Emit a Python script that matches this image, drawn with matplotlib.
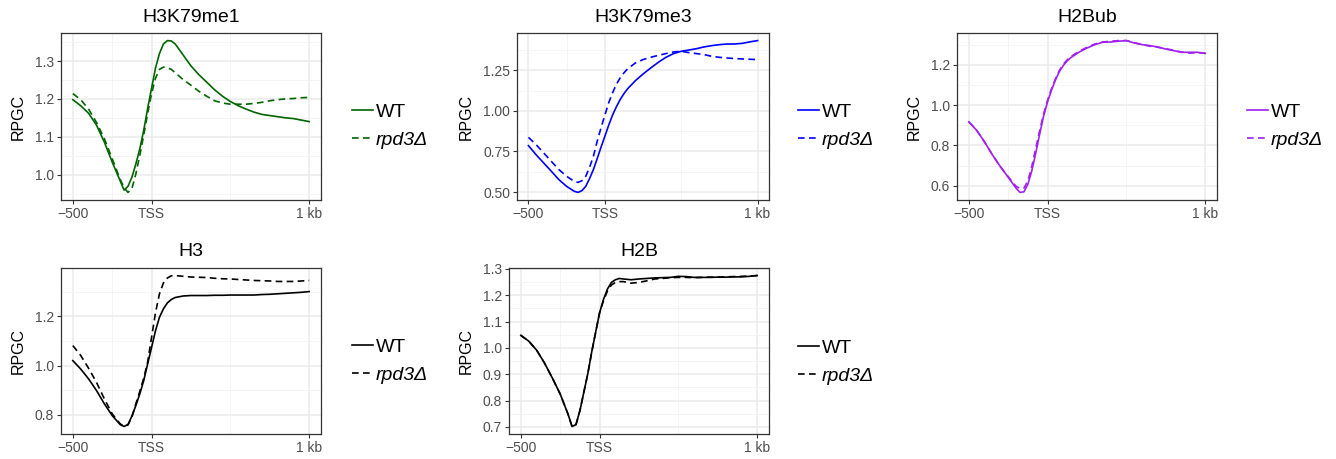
import matplotlib
matplotlib.use("Agg")
import matplotlib.pyplot as plt
from matplotlib.ticker import FixedLocator

plt.rcParams['font.family'] = ['Liberation Sans', 'DejaVu Sans']

# ---------------- data ----------------
pos = [-500, -450, -400, -350, -300, -250, -200, -175, -150, -125, -100, -75, -50, -25,
       0, 25, 50, 75, 100, 125, 150, 200, 250, 300, 350, 400, 450, 500, 550, 600,
       650, 700, 750, 800, 850, 900, 950, 1000]

titles = ["H3K79me1", "H3K79me3", "H2Bub", "H3", "H2B"]
series_labels = ["WT", "rpd3\u0394"]

h3k79me1_wt = [1.198, 1.182, 1.162, 1.131, 1.086, 1.033, 0.984, 0.959, 0.969, 0.993, 1.028, 1.068, 1.117, 1.175,
               1.229, 1.282, 1.320, 1.345, 1.354, 1.353, 1.345, 1.316, 1.287, 1.264, 1.244, 1.224, 1.207, 1.193,
               1.182, 1.173, 1.165, 1.159, 1.156, 1.153, 1.150, 1.148, 1.144, 1.140]
h3k79me1_rpd3 = [1.214, 1.198, 1.173, 1.138, 1.095, 1.042, 0.988, 0.966, 0.953, 0.963, 1.002, 1.051, 1.104, 1.162,
                 1.215, 1.255, 1.278, 1.284, 1.282, 1.278, 1.269, 1.251, 1.236, 1.220, 1.207, 1.195, 1.189, 1.186,
                 1.186, 1.186, 1.188, 1.191, 1.195, 1.198, 1.200, 1.201, 1.203, 1.204]

h3k79me3_wt = [0.786, 0.730, 0.679, 0.628, 0.576, 0.535, 0.505, 0.498, 0.509, 0.535, 0.583, 0.638, 0.706, 0.776,
               0.843, 0.911, 0.973, 1.024, 1.069, 1.106, 1.137, 1.186, 1.227, 1.264, 1.299, 1.330, 1.353, 1.367,
               1.375, 1.383, 1.394, 1.402, 1.408, 1.412, 1.412, 1.416, 1.425, 1.433]
h3k79me3_rpd3 = [0.837, 0.792, 0.741, 0.689, 0.638, 0.597, 0.566, 0.560, 0.570, 0.597, 0.652, 0.720, 0.813, 0.895,
                 0.973, 1.049, 1.110, 1.162, 1.203, 1.234, 1.260, 1.295, 1.316, 1.330, 1.342, 1.353, 1.363, 1.367,
                 1.359, 1.353, 1.347, 1.336, 1.330, 1.326, 1.322, 1.320, 1.318, 1.316]

h2bub_wt = [0.917, 0.875, 0.817, 0.753, 0.695, 0.642, 0.588, 0.567, 0.570, 0.608, 0.675, 0.763, 0.858, 0.947,
            1.017, 1.075, 1.125, 1.167, 1.197, 1.220, 1.237, 1.263, 1.283, 1.300, 1.312, 1.313, 1.317, 1.320,
            1.308, 1.300, 1.295, 1.288, 1.278, 1.270, 1.262, 1.262, 1.262, 1.257]
h2bub_rpd3 = [0.917, 0.875, 0.817, 0.753, 0.695, 0.645, 0.597, 0.587, 0.588, 0.625, 0.697, 0.787, 0.875, 0.958,
              1.025, 1.083, 1.130, 1.172, 1.203, 1.225, 1.242, 1.267, 1.287, 1.303, 1.313, 1.317, 1.320, 1.320,
              1.310, 1.300, 1.292, 1.287, 1.280, 1.272, 1.263, 1.258, 1.260, 1.257]

h3_wt = [1.020, 0.986, 0.946, 0.899, 0.845, 0.797, 0.761, 0.753, 0.761, 0.795, 0.838, 0.885, 0.939, 1.007,
         1.074, 1.142, 1.196, 1.230, 1.254, 1.268, 1.276, 1.282, 1.284, 1.284, 1.284, 1.285, 1.285, 1.286,
         1.286, 1.286, 1.286, 1.288, 1.289, 1.291, 1.293, 1.295, 1.297, 1.300]
h3_rpd3 = [1.081, 1.041, 0.989, 0.932, 0.865, 0.804, 0.764, 0.753, 0.759, 0.791, 0.845, 0.895, 0.949, 1.014,
           1.115, 1.216, 1.291, 1.335, 1.355, 1.364, 1.365, 1.362, 1.359, 1.358, 1.357, 1.354, 1.352, 1.351,
           1.349, 1.347, 1.345, 1.344, 1.343, 1.341, 1.341, 1.341, 1.343, 1.345]

h2b_wt = [1.048, 1.026, 0.992, 0.943, 0.886, 0.825, 0.748, 0.702, 0.709, 0.762, 0.832, 0.902, 0.985, 1.060,
          1.134, 1.185, 1.224, 1.249, 1.259, 1.264, 1.262, 1.259, 1.262, 1.264, 1.266, 1.267, 1.268, 1.272,
          1.271, 1.268, 1.268, 1.268, 1.269, 1.269, 1.270, 1.270, 1.272, 1.275]
h2b_rpd3 = [1.048, 1.026, 0.992, 0.943, 0.886, 0.825, 0.748, 0.702, 0.709, 0.762, 0.832, 0.902, 0.985, 1.060,
            1.134, 1.180, 1.217, 1.239, 1.249, 1.252, 1.252, 1.246, 1.249, 1.255, 1.262, 1.264, 1.267, 1.268,
            1.268, 1.267, 1.268, 1.269, 1.269, 1.270, 1.271, 1.272, 1.273, 1.275]

x_ticks = [-500, 0, 1000]
x_ticklabels = ["\u2212500", "TSS", "1 kb"]
x_minor = [-250, 500]

y_ticks = [[1.0, 1.1, 1.2, 1.3], [0.50, 0.75, 1.00, 1.25], [0.6, 0.8, 1.0, 1.2], [0.8, 1.0, 1.2],
           [0.7, 0.8, 0.9, 1.0, 1.1, 1.2, 1.3]]
y_fmt = ["{:.1f}", "{:.2f}", "{:.1f}", "{:.1f}", "{:.1f}"]

panel_data = [(h3k79me1_wt, h3k79me1_rpd3), (h3k79me3_wt, h3k79me3_rpd3), (h2bub_wt, h2bub_rpd3),
              (h3_wt, h3_rpd3), (h2b_wt, h2b_rpd3)]
colors = ["#006400", "#0000FF", "#A020F0", "#000000", "#000000"]

# ---------------- layout (pixels) ----------------
W, H = 1336, 459
boxes = [(61, 33, 321, 200), (517, 33, 769, 200), (957, 33, 1217, 200),
         (61, 268, 321, 434), (509, 268, 769, 434)]
ylab_x = [18, 466, 914, 18, 466]
legend_pos = [(352, 126), (798, 126), (1247, 126), (352, 361), (798, 362)]

fig = plt.figure(figsize=(W / 100, H / 100), dpi=100)
fig.patch.set_facecolor("white")

for i in range(5):
    l, t, r, b = boxes[i]
    ax = fig.add_axes([l / W, 1 - b / H, (r - l) / W, (b - t) / H])
    wt, rp = panel_data[i]
    c = colors[i]
    ax.plot(pos, wt, color=c, lw=1.2, label=series_labels[0], zorder=3)
    ax.plot(pos, rp, color=c, lw=1.2, linestyle=(0, (4.0, 2.6)), label=series_labels[1], zorder=3)
    ax.set_xlim(-575, 1075)
    ax.margins(y=0.05)

    ax.set_xticks(x_ticks)
    ax.set_xticklabels(x_ticklabels)
    ax.xaxis.set_minor_locator(FixedLocator(x_minor))
    yt = y_ticks[i]
    ax.set_yticks(yt)
    ax.set_yticklabels([y_fmt[i].format(v) for v in yt])
    ymin = [(yt[k] + yt[k + 1]) / 2 for k in range(len(yt) - 1)]
    ymin = [yt[0] - (yt[1] - yt[0]) / 2] + ymin + [yt[-1] + (yt[1] - yt[0]) / 2]
    ax.yaxis.set_minor_locator(FixedLocator(ymin))
    ax.grid(which='major', color='#EBEBEB', lw=1.1, zorder=0)
    ax.grid(which='minor', color='#F2F2F2', lw=0.6, zorder=0)
    ax.set_axisbelow(True)
    ax.tick_params(which='major', length=3, width=0.8, color='#333333', labelsize=10,
                   labelcolor='#4D4D4D', pad=2)
    ax.tick_params(which='minor', length=0)
    for s in ax.spines.values():
        s.set_color('#333333')
        s.set_linewidth(0.9)

    fig.text((l + r) / 2 / W, 1 - (t - 16) / H, titles[i], ha='center', va='center', fontsize=14)
    fig.text(ylab_x[i] / W, 1 - (t + b) / 2 / H, "RPGC", rotation=90, ha='center', va='center',
             fontsize=11.5)

    lx, ly = legend_pos[i]
    leg = ax.legend(loc='center left', bbox_to_anchor=(lx / W, 1 - ly / H),
                    bbox_transform=fig.transFigure, frameon=False, fontsize=14,
                    handlelength=1.1, handletextpad=0.12, labelspacing=0.55, borderpad=0,
                    borderaxespad=0)
    leg.get_texts()[1].set_fontstyle('italic')

fig.savefig("out.png", dpi=100, facecolor="white")
